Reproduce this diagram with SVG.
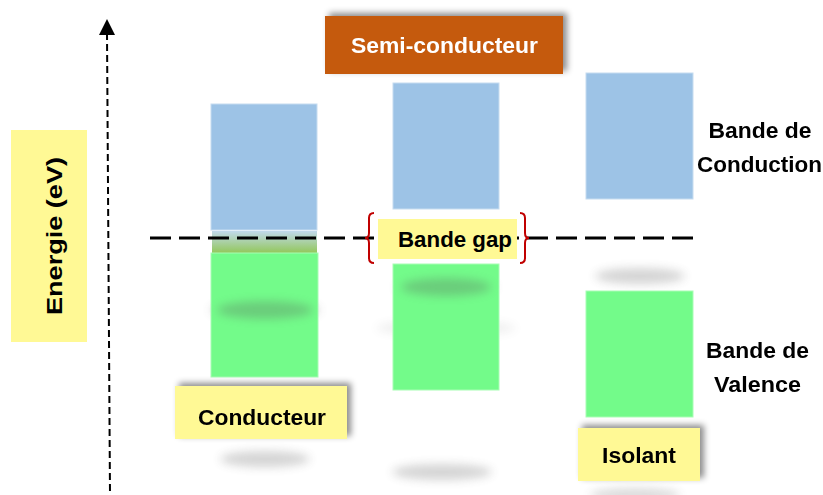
<svg xmlns="http://www.w3.org/2000/svg" width="823" height="495" viewBox="0 0 823 495">
<style>
.lbl{font-family:"Liberation Sans",Arial,sans-serif;font-weight:bold;font-size:22px;fill:#000}
.cb{fill:#9DC3E6;stroke:#C6DCF0;stroke-width:1}
.vb{fill:#73FB8A;stroke:#A8FDB4;stroke-width:1}
.yb{fill:#FFF995}
.sh{fill:#555;filter:url(#blur)}
</style>
<defs>
<filter id="blur" x="-50%" y="-100%" width="200%" height="300%"><feGaussianBlur stdDeviation="5"/></filter>
<filter id="ds" x="-20%" y="-40%" width="140%" height="180%"><feDropShadow dx="4" dy="-3" stdDeviation="3" flood-color="#000" flood-opacity="0.45"/></filter>
<linearGradient id="mix" x1="0" y1="0" x2="0" y2="1">
<stop offset="0" stop-color="#C2D9EC"/>
<stop offset="1" stop-color="#92C75A"/>
</linearGradient>
</defs>
<rect width="823" height="495" fill="#fff"/>

<g id="shadows" opacity="0.35">
<ellipse class="sh" cx="265" cy="310" rx="55" ry="10" opacity="0.6"/>
<ellipse class="sh" cx="446" cy="287" rx="50" ry="10" opacity="0.6"/>
<ellipse class="sh" cx="446" cy="328" rx="70" ry="8" opacity="0.25"/>
<ellipse class="sh" cx="640" cy="276" rx="45" ry="8" opacity="0.7"/>
<ellipse class="sh" cx="265" cy="459" rx="45" ry="8" opacity="0.7"/>
<ellipse class="sh" cx="442" cy="472" rx="50" ry="8" opacity="0.7"/>
<ellipse class="sh" cx="635" cy="495" rx="45" ry="7" opacity="0.6"/>
</g>

<g id="conducteur-bands">
<rect class="cb" x="211" y="104" width="106" height="126"/>
<rect x="212" y="231" width="105" height="22" fill="url(#mix)"/>
<rect class="vb" x="211" y="253" width="107" height="124"/>
<ellipse class="sh" cx="265" cy="310" rx="48" ry="9" opacity="0.28"/>
</g>

<g id="semiconducteur-bands">
<rect class="cb" x="393" y="83" width="106" height="126"/>
<rect class="vb" x="393" y="264" width="106" height="126"/>
<ellipse class="sh" cx="446" cy="287" rx="45" ry="9" opacity="0.28"/>
</g>

<g id="isolant-bands">
<rect class="cb" x="586" y="73" width="107" height="126"/>
<rect class="vb" x="586" y="291" width="107" height="126"/>
</g>

<g id="connectors">
<line x1="107" y1="33" x2="110" y2="495" stroke="#000" stroke-width="2" stroke-dasharray="7 4"/>
<polygon points="107,19 99,35 115,35" fill="#000"/>
<line x1="150" y1="238" x2="700" y2="238" stroke="#000" stroke-width="3" stroke-dasharray="21 8"/>
</g>

<g id="energie">
<rect x="11" y="130" width="76" height="212" fill="#FFF995"/>
<text class="lbl" font-size="27" transform="translate(62,236) rotate(-90)" text-anchor="middle" textLength="158" lengthAdjust="spacingAndGlyphs">Energie (eV)</text>
</g>

<g id="semi-conducteur" filter="url(#ds)">
<rect x="325" y="16" width="238" height="58" fill="#C55A11"/>
<text class="lbl" x="444.5" y="53" text-anchor="middle" style="fill:#fff" textLength="187" lengthAdjust="spacingAndGlyphs">Semi-conducteur</text>
</g>

<g id="bande-gap">
<rect class="yb" x="378" y="219" width="139" height="40"/>
<text class="lbl" x="455" y="247" text-anchor="middle" textLength="114" lengthAdjust="spacingAndGlyphs">Bande gap</text>
<path d="M374,213 Q369,213 369,218 L369,233 Q369,238 365,238 Q369,238 369,243 L369,258 Q369,263 374,263" fill="none" stroke="#C00000" stroke-width="2"/>
<path d="M520,213 Q525,213 525,218 L525,233 Q525,238 529,238 Q525,238 525,243 L525,258 Q525,263 520,263" fill="none" stroke="#C00000" stroke-width="2"/>
</g>

<g id="conducteur" filter="url(#ds)">
<rect class="yb" x="175" y="386" width="172" height="53"/>
<text class="lbl" x="262" y="425" text-anchor="middle" textLength="128" lengthAdjust="spacingAndGlyphs">Conducteur</text>
</g>

<g id="isolant" filter="url(#ds)">
<rect class="yb" x="578" y="428" width="122" height="53"/>
<text class="lbl" x="639" y="463" text-anchor="middle" textLength="74" lengthAdjust="spacingAndGlyphs">Isolant</text>
</g>

<g id="label-conduction">
<text class="lbl" x="760" y="138" text-anchor="middle" textLength="103" lengthAdjust="spacingAndGlyphs">Bande de</text>
<text class="lbl" x="759.5" y="172" text-anchor="middle" textLength="125" lengthAdjust="spacingAndGlyphs">Conduction</text>
</g>

<g id="label-valence">
<text class="lbl" x="757.5" y="358" text-anchor="middle" textLength="103" lengthAdjust="spacingAndGlyphs">Bande de</text>
<text class="lbl" x="757.5" y="392" text-anchor="middle" textLength="87" lengthAdjust="spacingAndGlyphs">Valence</text>
</g>
</svg>
